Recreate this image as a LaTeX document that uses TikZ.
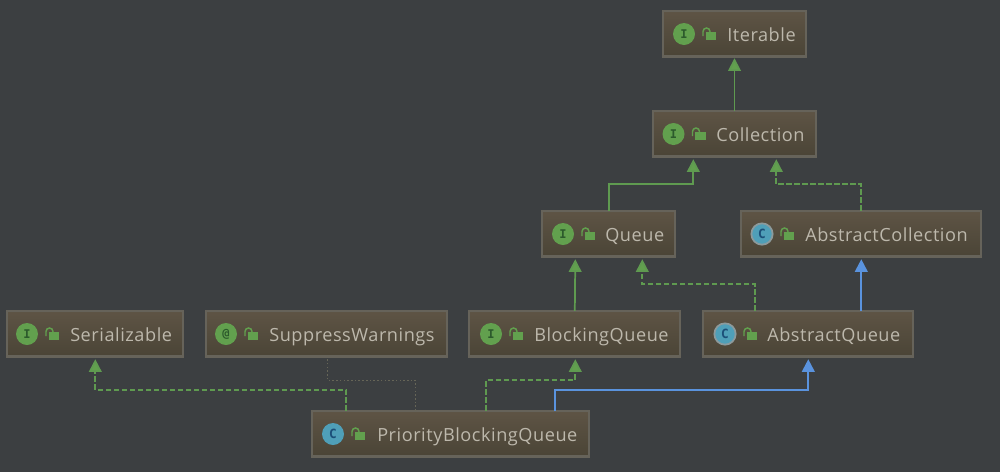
\documentclass[tikz,border=0pt]{standalone}
\usepackage{fontspec}
\setmainfont[LetterSpace=3.0]{Open Sans}
\newfontfamily\iconfont{DejaVu Sans Mono}
\usetikzlibrary{arrows.meta,calc}
\definecolor{bgc}{HTML}{3C3F41}
\definecolor{boxtop}{HTML}{5E5445}
\definecolor{boxbot}{HTML}{4A4436}
\definecolor{boxline}{HTML}{66635A}
\definecolor{txt}{HTML}{BDB8AC}
\definecolor{grn}{HTML}{62A04E}
\definecolor{grnl}{HTML}{5F9A50}
\definecolor{blu}{HTML}{5A93DE}
\definecolor{teal}{HTML}{4F9FB8}
\definecolor{dots}{HTML}{666557}
\definecolor{halo}{HTML}{8C9A9C}
\definecolor{ilet}{HTML}{2C5A2C}
\definecolor{clet}{HTML}{1C4F78}
\tikzset{
  x=0.75pt,y=-0.75pt,
  umlbox/.style={rectangle,draw=boxline,line width=1.2pt,outer sep=0pt,top color=boxtop,bottom color=boxbot,inner sep=0pt,anchor=north west},
  label/.style={text=txt,inner sep=0pt,anchor=base west,font=\fontsize{13.6pt}{16pt}\selectfont},
  icircle/.style={circle,fill=grn,minimum size=16.5pt,inner sep=0pt,text=ilet,font=\iconfont\fontsize{9pt}{10pt}\bfseries\selectfont},
  ccircle/.style={circle,fill=teal,minimum size=16.5pt,inner sep=0pt,text=clet,font=\iconfont\fontsize{9.5pt}{10pt}\bfseries\selectfont},
  acircle/.style={circle,fill=teal,draw=halo,line width=1.3pt,minimum size=16pt,inner sep=0pt,text=clet,font=\iconfont\fontsize{9.5pt}{10pt}\bfseries\selectfont},
  greenhead/.style={-{Triangle[width=9.5pt,length=9.5pt,fill=grn]},draw=grnl,line width=1.3pt},
  solidgreen/.style={greenhead},
  dashgreen/.style={greenhead,dash pattern=on 4pt off 2pt},
  bluesolid/.style={-{Triangle[width=9.5pt,length=9.5pt,fill=blu]},draw=blu,line width=1.5pt},
  dotline/.style={draw=dots,line width=1pt,dash pattern=on 1.2pt off 1.6pt},
}
% name, x1, y1, x2, y2, icon x, text x, icon style, icon letter, text
\newcommand{\umlentry}[9]{%
  \node[umlbox,minimum width=(#4-#2-1.6)*0.75pt,minimum height=46.4*0.75pt] (#1) at (#2+0.8,#3+0.8) {};
  \fill[boxline] (#2,#3+45) rectangle (#4,#3+48);
  \node[#7] (#1icon) at (#5,#3+24) {#8};
  \fill[grn] (#5+21.5,#3+22) rectangle (#5+32,#3+30);
  \draw[grn,line width=1.1pt] (#5+26,#3+22) -- (#5+26,#3+21.5) arc (0:-180:3.5) -- (#5+19,#3+26);
  \node[label] (#1text) at (#6,#3+31) {#9};
}
\begin{document}
\begin{tikzpicture}
\useasboundingbox[fill=bgc] (0,0) rectangle (1000,472);
\umlentry{iter}{662}{10}{807}{684}{727}{icircle}{I}{Iterable}
\umlentry{coll}{652}{110}{817}{673.5}{716}{icircle}{I}{Collection}
\umlentry{queue}{541}{210}{676}{563}{605}{icircle}{I}{Queue}
\umlentry{ser}{6}{310}{184}{27}{70}{icircle}{I}{Serializable}
\umlentry{sw}{205}{310}{448}{226}{269}{icircle}{@}{SuppressWarnings}
\umlentry{bq}{468}{310}{681}{491}{534}{icircle}{I}{BlockingQueue}
\umlentry{ac}{740}{210}{982}{762}{805}{acircle}{C}{AbstractCollection}
\umlentry{aq}{702}{310}{914}{725}{767}{acircle}{C}{AbstractQueue}
\umlentry{pbq}{311}{410}{590}{333}{377}{ccircle}{C}{PriorityBlockingQueue}
% connectors
\draw[solidgreen] (coll.north -| iter.south) -- ($(iter.south)+(0,1)$);
\draw[solidgreen] ($(queue.north west)+(67,0)$) |- ($(coll.south west)+(40.5,27)$) -- ($(coll.south west)+(40.5,2)$);
\draw[dashgreen] (ac.north) |- ($(coll.south west)+(123.5,27)$) -- ($(coll.south west)+(123.5,2)$);
\draw[solidgreen] ($(bq.north west)+(106,0)$) -- ($(queue.south west)+(33.5,2)$);
\draw[dashgreen] ($(aq.north west)+(52,0)$) |- ($(queue.south west)+(100.5,27)$) -- ($(queue.south west)+(100.5,2)$);
\draw[bluesolid] ($(aq.north west)+(158.5,0)$) -- ($(ac.south west)+(120.5,2)$);
\draw[dashgreen] ($(pbq.north west)+(34.5,0)$) |- ($(ser.south west)+(88.5,33)$) -- ($(ser.south west)+(88.5,2)$);
\draw[dotline] ($(pbq.north west)+(103.5,0)$) |- ($(sw.south west)+(121.5,23)$) -- ($(sw.south west)+(121.5,0)$);
\draw[dashgreen] ($(pbq.north west)+(174.5,0)$) |- ($(bq.south west)+(106.5,23)$) -- ($(bq.south west)+(106.5,2)$);
\draw[bluesolid] ($(pbq.north west)+(243.5,0)$) |- ($(aq.south west)+(105.5,33)$) -- ($(aq.south west)+(105.5,2)$);
\end{tikzpicture}
\end{document}
